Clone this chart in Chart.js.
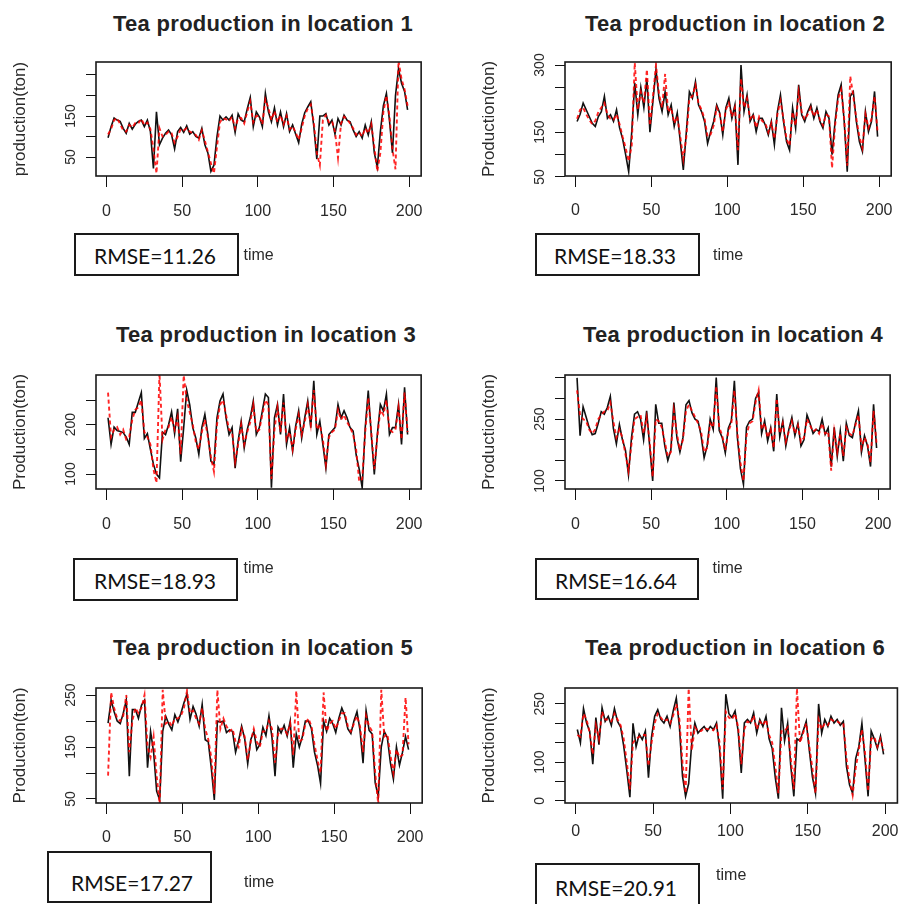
<!DOCTYPE html>
<html>
<head>
<meta charset="utf-8">
<script src="https://cdn.jsdelivr.net/npm/chart.js@4.4.1/dist/chart.umd.min.js"></script>
<style>
  html, body { margin:0; padding:0; background:#fff; }
  #root { position:relative; width:907px; height:904px; overflow:hidden; background:#fff; }
  canvas { position:absolute; }
  .ttl { position:absolute; transform:translate(-50%,-50%); font:bold 22px "Liberation Sans", Arial, sans-serif; letter-spacing:0.3px; color:#222; white-space:nowrap; line-height:1; }
  .rbox { position:absolute; box-sizing:border-box; border:2px solid #1a1a1a; background:#fff; }
  .rtxt { position:absolute; transform:translate(-50%,-50%); font:21px Lato, "Open Sans", sans-serif; color:#111; white-space:nowrap; line-height:1; }
</style>
</head>
<body>
<div id="root"></div>
<script>
// ---------- data ----------
const TIME = [1,3,5,7,9,11,13,15,17,19,21,23,25,27,29,31,33,35,37,39,41,43,45,47,49,51,53,55,57,59,61,63,65,67,69,71,73,75,77,79,81,83,85,87,89,91,93,95,97,99,101,103,105,107,109,111,113,115,117,119,121,123,125,127,129,131,133,135,137,139,141,143,145,147,149,151,153,155,157,159,161,163,165,167,169,171,173,175,177,179,181,183,185,187,189,191,193,195,197,199];
const X_TICKS = [0,50,100,150,200];

const TITLES = ['Tea production in location 1','Tea production in location 2','Tea production in location 3','Tea production in location 4','Tea production in location 5','Tea production in location 6'];
const Y_TITLES = ['production(ton)','Production(ton)','Production(ton)','Production(ton)','Production(ton)','Production(ton)'];
const X_TITLE = 'time';
const RMSE_LABELS = ['RMSE=11.26','RMSE=18.33','RMSE=18.93','RMSE=16.64','RMSE=17.27','RMSE=20.91'];

const YTICKS_1 = [50,100,150,200,250];      const YLABELS_1 = [50,150];
const YTICKS_2 = [50,100,150,200,250,300];  const YLABELS_2 = [50,150,300];
const YTICKS_3 = [100,150,200,250];         const YLABELS_3 = [100,200];
const YTICKS_4 = [100,150,200,250,300,350]; const YLABELS_4 = [100,250];
const YTICKS_5 = [50,100,150,200,250];      const YLABELS_5 = [50,150,250];
const YTICKS_6 = [0,50,100,150,200,250];    const YLABELS_6 = [0,100,250];

const ACTUAL_1 = [97,124,145,140,137,120,108,132,118,130, 137,140,124,140,112,22,160,80,96,108, 116,104,70,112,122,110,126,106,112,100, 96,120,80,60,15,30,100,150,140,148, 140,152,110,155,140,136,167,195,124,160, 148,124,205,160,136,170,128,160,124,156, 112,128,106,85,130,158,172,185,125,45, 150,150,156,128,140,106,144,128,152,140, 136,116,100,112,96,128,104,136,60,25, 112,175,205,140,60,200,265,230,210,165];
const PRED_1 = [105,118,140,145,130,115,112,128,122,133, 132,143,128,134,118,70,10,120,100,104, 112,108,85,100,118,115,120,112,108,104, 92,115,90,62,35,10,75,135,145,142, 138,148,120,145,145,132,160,185,135,150, 150,130,190,170,140,162,135,152,130,150, 118,125,110,92,120,150,168,178,135,60, 30,140,152,135,138,112,48,132,148,142, 132,120,104,110,100,120,108,130,75,15, 60,160,200,150,70,20,285,240,215,175];

const ACTUAL_2 = [174,190,215,200,185,170,163,185,196,230, 181,189,174,200,160,135,100,62,150,260, 189,250,205,270,150,220,290,225,196,240, 189,211,163,193,129,66,151,240,226,263, 211,196,174,125,151,174,211,193,144,204, 226,181,211,77,300,196,233,174,189,151, 181,181,166,144,174,122,196,233,174,129, 110,204,159,256,189,174,196,211,181,204, 174,159,196,181,100,174,233,256,174,62, 230,240,174,129,107,196,151,174,241,140];
const PRED_2 = [180,200,205,190,178,168,175,195,205,215, 190,180,178,190,168,140,115,85,120,305, 200,240,215,290,165,230,300,235,205,280, 195,205,170,185,140,90,140,225,230,255, 215,200,180,140,145,165,205,190,150,200, 215,185,205,110,270,205,225,180,190,160, 185,175,170,150,170,135,190,220,180,135, 120,195,165,240,195,178,190,205,185,200, 178,165,190,185,70,165,225,245,180,75, 275,230,180,140,115,190,160,180,230,150];

const ACTUAL_3 = [214,160,195,188,186,184,175,160,225,225, 245,265,172,182,150,120,100,92,185,180, 200,226,182,232,125,194,270,240,194,173, 140,194,221,180,126,119,214,248,262,214, 180,194,112,167,207,153,190,214,248,180, 194,228,262,255,72,214,241,180,262,160, 194,146,197,228,173,214,248,194,289,180, 207,160,112,180,187,194,241,214,228,214, 194,187,139,110,72,194,269,180,99,180, 241,228,262,180,194,194,241,160,276,180];
const PRED_3 = [265,175,190,195,180,190,170,175,210,230, 235,250,185,175,160,110,82,305,170,190, 195,215,190,215,140,300,250,225,200,165, 150,185,210,175,135,105,200,240,250,220, 190,185,125,160,200,160,185,205,240,185, 190,220,250,240,90,190,235,185,245,170, 185,150,190,220,180,205,240,200,270,190, 200,170,120,175,185,190,230,210,220,205, 195,180,150,85,90,185,255,185,110,175, 230,220,250,190,185,190,235,170,265,185];

const ACTUAL_4 = [350,210,280,255,230,212,215,240,268,262, 278,305,228,190,237,200,175,115,205,262, 268,250,200,270,185,100,286,240,240,185, 150,175,290,205,170,205,285,295,265,250, 245,210,156,185,250,225,351,222,205,168, 228,246,343,205,130,92,230,245,250,300, 315,215,246,197,229,172,311,207,246,185, 225,254,210,240,185,200,260,240,215,225, 220,250,213,229,135,230,160,221,148,240, 210,205,240,270,170,210,185,135,286,180];
const PRED_4 = [320,260,250,245,225,215,225,250,260,268, 270,290,245,205,225,205,165,125,190,250, 255,260,215,255,195,110,250,245,230,195, 160,170,270,215,175,200,270,285,270,255, 240,220,170,180,240,230,330,230,210,175, 220,240,320,215,145,100,210,240,245,290, 320,225,240,205,225,180,300,215,240,195, 220,245,215,235,195,205,250,235,220,225, 215,240,215,220,125,220,170,215,160,230, 215,210,235,260,180,205,190,145,270,190];

const ACTUAL_5 = [196,240,218,200,195,215,240,94,222,222, 205,230,240,110,180,140,65,48,180,209, 194,183,212,198,215,235,252,203,228,213, 190,232,164,160,110,48,200,198,200,178, 183,180,140,162,190,166,118,164,180,145, 155,188,172,210,168,94,188,177,192,171, 200,110,175,150,170,200,200,185,140,115, 80,200,180,205,195,178,205,225,210,185, 176,200,218,182,119,220,182,175,81,55, 150,180,168,120,88,150,115,140,170,145];
const PRED_5 = [95,255,225,205,200,210,250,140,200,225, 215,225,250,150,130,170,95,40,260,195, 200,190,205,205,210,225,258,215,220,205, 195,225,185,165,130,60,260,185,205,190, 180,185,160,150,185,170,125,160,185,160, 150,180,180,200,185,120,175,185,185,175, 195,135,258,160,165,195,205,190,155,125, 100,255,180,195,200,185,200,215,215,190, 180,195,210,190,140,210,190,180,100,40, 260,170,175,135,100,145,130,135,245,155];

const ACTUAL_6 = [184,150,238,201,180,95,215,145,240,205, 218,195,238,205,190,141,78,10,200,140, 172,158,180,60,165,218,235,210,201,218, 192,232,265,192,64,12,45,150,201,175, 184,192,180,192,184,201,132,6,275,225, 215,232,180,72,201,210,201,227,175,210, 192,218,160,135,60,6,240,155,200,90, 12,160,155,180,205,130,62,20,250,175, 210,192,218,201,210,195,205,89,42,20, 110,140,200,107,12,180,160,135,167,120];
const PRED_6 = [170,165,225,210,175,120,195,160,230,210, 210,205,225,210,195,160,100,30,150,160, 165,170,170,90,150,200,225,215,205,210, 200,220,250,210,100,20,290,130,190,180, 180,188,185,185,182,195,150,30,230,215, 210,225,190,95,185,205,200,220,185,205, 195,210,170,150,90,20,180,180,190,110, 30,290,150,175,200,140,85,20,210,185, 200,195,210,205,205,200,200,110,55,15, 85,130,185,125,25,160,165,140,160,130];

// ---------- panel layout (positions only) ----------
const LAYOUT = [
  {box:[96,62,434,176],  ymin:3.7,  ymax:281.7, tickLabY:212, timeY:255, title:[263,24],  rbox:[74,233,165,43],  rtxt:[155,255]},
  {box:[565,62,903,176], ymin:52.2, ymax:306.7, tickLabY:211, timeY:255, title:[735,24],  rbox:[535,233,165,43], rtxt:[615,255]},
  {box:[96,375,434,489], ymin:69.6, ymax:300.7, tickLabY:525, timeY:568, title:[266,335], rbox:[73,558,165,43],  rtxt:[155,580]},
  {box:[565,375,903,489],ymin:80.6, ymax:357,   tickLabY:525, timeY:568, title:[733,335], rbox:[535,558,164,42], rtxt:[616,580]},
  {box:[96,688,434,803], ymin:42.3, ymax:263.5, tickLabY:838, timeY:882, title:[263,648], rbox:[47,851,165,52],  rtxt:[132,882]},
  {box:[565,688,903,803],ymin:-5.2, ymax:291,   tickLabY:832, timeY:875, title:[735,648], rbox:[535,863,165,50], rtxt:[616,887]}
];

const PANELS = [
  {actual:ACTUAL_1, pred:PRED_1, yTicks:YTICKS_1, yLabels:YLABELS_1},
  {actual:ACTUAL_2, pred:PRED_2, yTicks:YTICKS_2, yLabels:YLABELS_2},
  {actual:ACTUAL_3, pred:PRED_3, yTicks:YTICKS_3, yLabels:YLABELS_3},
  {actual:ACTUAL_4, pred:PRED_4, yTicks:YTICKS_4, yLabels:YLABELS_4},
  {actual:ACTUAL_5, pred:PRED_5, yTicks:YTICKS_5, yLabels:YLABELS_5},
  {actual:ACTUAL_6, pred:PRED_6, yTicks:YTICKS_6, yLabels:YLABELS_6}
];

const FONT = '"Liberation Sans", Arial, sans-serif';
const TXT = '#2a2a2a';
const TOP_PAD = 14;

const rPlot = {
  id: 'rplot',
  afterDraw(chart, args, opts) {
    const {ctx, chartArea: a} = chart;
    const y = chart.scales.y;
    ctx.save();
    ctx.strokeStyle = '#1a1a1a';
    ctx.lineWidth = 1.6;
    ctx.strokeRect(a.left, a.top, a.right - a.left, a.bottom - a.top);
    ctx.fillStyle = TXT;
    ctx.font = '14px ' + FONT;
    ctx.textAlign = 'center';
    ctx.textBaseline = 'middle';
    for (const v of opts.labels) {
      const py = y.getPixelForValue(v);
      ctx.save();
      ctx.translate(a.left - 25, py);
      ctx.rotate(-Math.PI / 2);
      ctx.fillText(String(v), 0, 0);
      ctx.restore();
    }
    ctx.restore();
  }
};

const root = document.getElementById('root');

PANELS.forEach((P, k) => {
  const L = LAYOUT[k];
  const [bl, bt, br, bb] = L.box;
  const xAxisH = Math.round(L.timeY + 9.6 - bb);
  const W = br - bl + 100;
  const H = bb - bt + TOP_PAD + xAxisH;
  const cv = document.createElement('canvas');
  cv.width = W; cv.height = H;
  cv.style.left = (bl - 96) + 'px';
  cv.style.top = (bt - TOP_PAD) + 'px';
  cv.style.width = W + 'px';
  cv.style.height = H + 'px';
  root.appendChild(cv);

  const t = document.createElement('div');
  t.className = 'ttl';
  t.style.left = L.title[0] + 'px';
  t.style.top = L.title[1] + 'px';
  t.textContent = TITLES[k];
  root.appendChild(t);

  const rb = document.createElement('div');
  rb.className = 'rbox';
  rb.style.left = L.rbox[0] + 'px';
  rb.style.top = L.rbox[1] + 'px';
  rb.style.width = L.rbox[2] + 'px';
  rb.style.height = L.rbox[3] + 'px';
  root.appendChild(rb);

  const rt = document.createElement('div');
  rt.className = 'rtxt';
  rt.style.left = L.rtxt[0] + 'px';
  rt.style.top = L.rtxt[1] + 'px';
  rt.textContent = RMSE_LABELS[k];
  root.appendChild(rt);

  new Chart(cv, {
    type: 'line',
    data: {
      datasets: [
        {
          label: 'predicted',
          data: TIME.map((x, i) => ({x: x, y: P.pred[i]})),
          borderColor: 'rgba(255,0,0,0.85)',
          borderWidth: 1.9,
          borderDash: [4, 3],
          pointRadius: 0,
          tension: 0,
          order: 0
        },
        {
          label: 'actual',
          data: TIME.map((x, i) => ({x: x, y: P.actual[i]})),
          borderColor: '#111',
          borderWidth: 1.6,
          pointRadius: 0,
          tension: 0,
          order: 1
        }
      ]
    },
    options: {
      responsive: false,
      animation: false,
      events: [],
      layout: {padding: {left: 0, top: TOP_PAD, right: 4, bottom: 0}},
      plugins: {
        legend: {display: false},
        tooltip: {enabled: false},
        title: {display: false},
        rplot: {labels: P.yLabels}
      },
      scales: {
        x: {
          type: 'linear',
          position: 'bottom',
          min: -6.96,
          max: 207.96,
          afterBuildTicks: s => { s.ticks = X_TICKS.map(v => ({value: v})); },
          afterFit: s => { s.height = xAxisH; },
          grid: {drawOnChartArea: false, drawTicks: true, tickLength: 11, color: '#111', lineWidth: 1},
          border: {display: false},
          ticks: {
            autoSkip: false, maxRotation: 0, minRotation: 0,
            padding: L.tickLabY - bb - 20.6,
            color: TXT,
            font: {size: 16, family: FONT}
          },
          title: {
            display: true, text: X_TITLE, color: TXT,
            font: {size: 16, family: FONT},
            padding: {top: 0, bottom: 0}
          }
        },
        y: {
          type: 'linear',
          position: 'left',
          min: L.ymin,
          max: L.ymax,
          afterBuildTicks: s => { s.ticks = P.yTicks.map(v => ({value: v})); },
          afterFit: s => { s.width = 96; },
          grid: {drawOnChartArea: false, drawTicks: true, tickLength: 10, color: '#111', lineWidth: 1},
          border: {display: false},
          ticks: {display: false},
          title: {
            display: true, text: Y_TITLES[k], color: TXT,
            font: {size: 17, family: FONT},
            padding: {top: 10, bottom: 0}
          }
        }
      }
    },
    plugins: [rPlot]
  });
});
</script>
</body>
</html>
